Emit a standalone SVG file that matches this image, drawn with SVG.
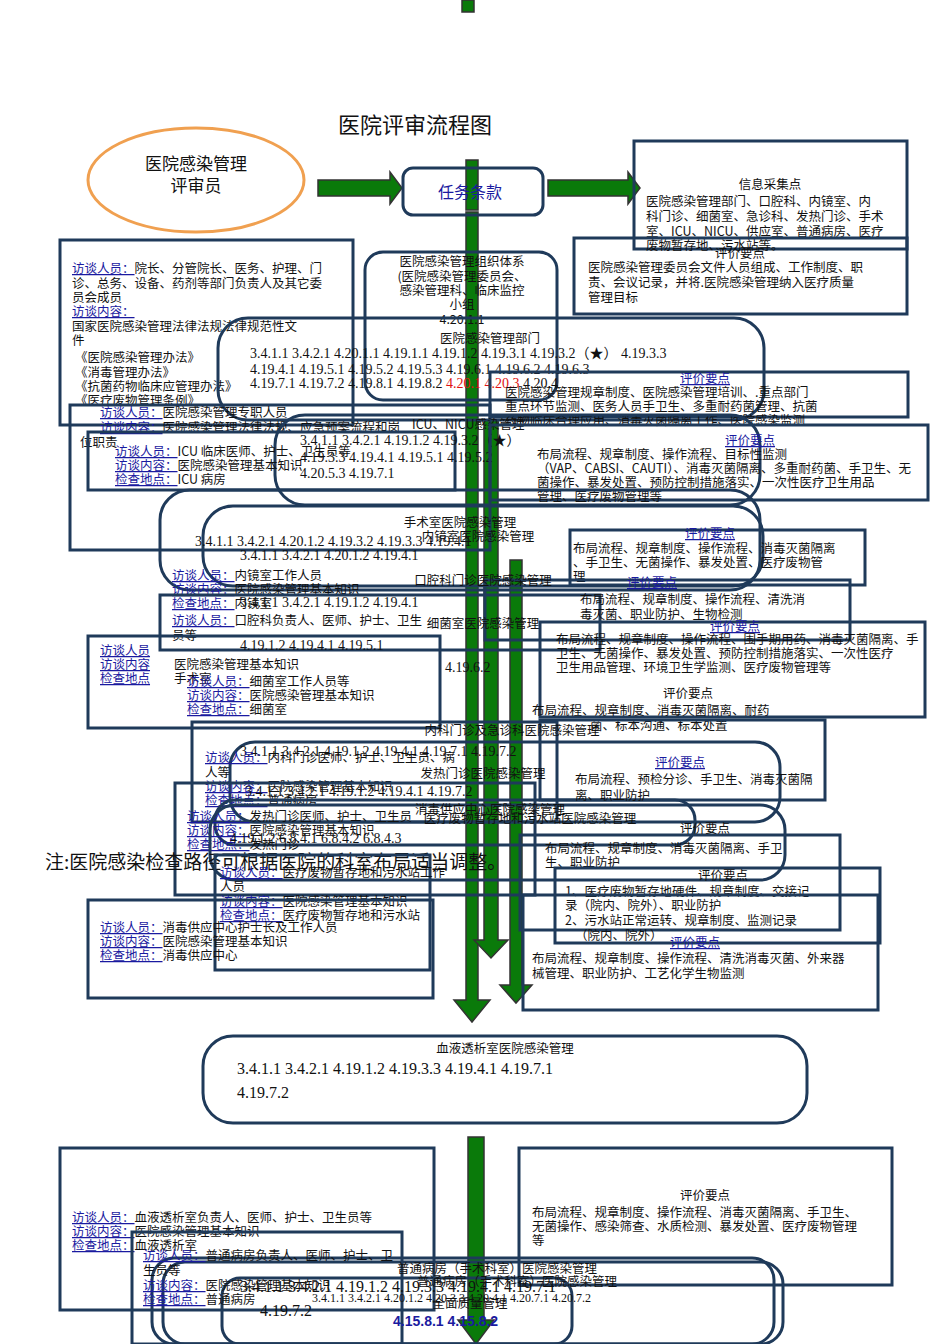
<svg xmlns="http://www.w3.org/2000/svg" width="950" height="1344" viewBox="0 0 950 1344">
<style>
text{font-family:"Noto Sans CJK SC","Liberation Sans",sans-serif;font-size:12.5px;fill:#111}
.b{fill:none;stroke:#1f3a5a;stroke-width:3}
.r{fill:none;stroke:#1f3a5a;stroke-width:3}
.k{fill:#1a1aa0;text-decoration:underline}
.n{font-family:"Liberation Serif","Noto Sans CJK SC",serif;font-size:14px}
.g{fill:#0a7a0a;stroke:#333;stroke-width:1.5}
.red{fill:#e01010}
.bl{fill:#1a1aa0}
</style>
<rect width="950" height="1344" fill="#fff"/>
<g id="connectors">
<rect class="g" x="462" y="0" width="12" height="12"/>
<polygon class="g" points="318,180 390,180 390,172 402,188 390,204 390,196 318,196"/>
<polygon class="g" points="548,180 628,180 628,172 640,188 628,204 628,196 548,196"/>
<rect class="g" x="466" y="160" width="12" height="50"/>
<polygon class="g" points="466,212 478,212 478,1000 490,1000 472,1022 454,1000 466,1000"/>
<polygon class="g" points="484,420 498,420 498,940 508,940 491,958 474,940 484,940"/>
<polygon class="g" points="510,560 522,560 522,985 532,985 516,1003 500,985 510,985"/>
<polygon class="g" points="468,1137 484,1137 484,1320 494,1320 476,1344 458,1320 468,1320"/>
</g>
<text x="415" y="133" text-anchor="middle" style="font-size:22px">医院评审流程图</text>
<g id="reviewer">
<ellipse cx="196" cy="180" rx="108" ry="52" fill="none" stroke="#f0a050" stroke-width="3"/>
<text x="196" y="170" text-anchor="middle" style="font-size:17px">医院感染管理</text>
<text x="196" y="192" text-anchor="middle" style="font-size:17px">评审员</text>
</g>
<g id="task">
<rect class="r" x="403" y="168" width="140" height="47" rx="10"/>
<text x="470" y="198" text-anchor="middle" class="bl" style="font-size:16px">任务条款</text>
</g>
<g id="info">
<rect class="b" x="634" y="141" width="273" height="108"/>
<text x="770" y="189" text-anchor="middle">信息采集点</text>
<text x="646" y="206">医院感染管理部门、口腔科、内镜室、内</text>
<text x="646" y="221">科门诊、细菌室、急诊科、发热门诊、手术</text>
<text x="646" y="236">室、ICU、NICU、供应室、普通病房、医疗</text>
<text x="646" y="250">废物暂存地、污水站等。</text>
</g>
<g id="eval1">
<rect class="b" x="574" y="238" width="333" height="76"/>
<text x="740" y="258" text-anchor="middle">评价要点</text>
<text x="588" y="272">医院感染管理委员会文件人员组成、工作制度、职</text>
<text x="588" y="287">责、会议记录，并将.医院感染管理纳入医疗质量</text>
<text x="588" y="302">管理目标</text>
</g>
<g id="leftmgmt">
<rect class="b" x="60" y="240" width="293" height="185"/>
<text x="72" y="273"><tspan class="k">访谈人员：</tspan>院长、分管院长、医务、护理、门</text>
<text x="72" y="288">诊、总务、设备、药剂等部门负责人及其它委</text>
<text x="72" y="302">员会成员</text>
<text x="72" y="316" class="k">访谈内容：</text>
<text x="72" y="331">国家医院感染管理法律法规法律规范性文</text>
<text x="72" y="345">件</text>
<text x="75" y="362">《医院感染管理办法》</text>
<text x="75" y="377">《消毒管理办法》</text>
<text x="75" y="391">《抗菌药物临床应管理办法》</text>
<text x="75" y="405">《医疗废物管理条例》</text>
</g>
<g id="org">
<rect class="r" x="365" y="252" width="192" height="148" rx="18"/>
<text x="462" y="266" text-anchor="middle">医院感染管理组织体系</text>
<text x="462" y="281" text-anchor="middle">(医院感染管理委员会、</text>
<text x="462" y="295" text-anchor="middle">感染管理科、临床监控</text>
<text x="462" y="309" text-anchor="middle">小组</text>
<text x="462" y="324" text-anchor="middle">4.20.1.1</text>
</g>
<g id="dept">
<rect class="r" x="218" y="318" width="546" height="102" rx="30"/>
<text x="490" y="343" text-anchor="middle">医院感染管理部门</text>
<text x="250" y="358" class="n">3.4.1.1 3.4.2.1 4.20.1.1 4.19.1.1 4.19.1.2 4.19.3.1 4.19.3.2（★） 4.19.3.3</text>
<text x="250" y="374" class="n">4.19.4.1 4.19.5.1 4.19.5.2 4.19.5.3 4.19.6.1 4.19.6.2 4.19.6.3</text>
<text x="250" y="388" class="n">4.19.7.1 4.19.7.2 4.19.8.1 4.19.8.2 <tspan class="red">4.20.1 4.20.3</tspan> 4.20.4</text>
</g>
<g id="eval2">
<rect class="b" x="490" y="372" width="418" height="45"/>
<text x="680" y="383" class="k">评价要点</text>
<text x="505" y="397">医院感染管理规章制度、医院感染管理培训、.重点部门</text>
<text x="505" y="411">重点环节监测、医务人员手卫生、多重耐药菌管理、抗菌</text>
<text x="505" y="425">药物临床合理应用、消毒灭菌隔离工作、医院感染监测</text>
</g>
<g id="deptstaff">
<rect class="b" x="70" y="405" width="420" height="145"/>
<text x="100" y="417"><tspan class="k">访谈人员：</tspan>医院感染管理专职人员</text>
<text x="100" y="432"><tspan class="k">访谈内容：</tspan>医院感染管理法律法规、应急预案流程和岗</text>
<text x="80" y="447">位职责</text>
</g>
<g id="icu">
<rect class="b" x="88" y="432" width="367" height="58"/>
<rect class="r" x="275" y="415" width="485" height="90" rx="30"/>
<text x="412" y="429">ICU、NICU感染管理</text>
<text x="115" y="456"><tspan class="k">访谈人员：</tspan>ICU 临床医师、护士、卫生员等</text>
<text x="115" y="470"><tspan class="k">访谈内容：</tspan>医院感染管理基本知识</text>
<text x="115" y="484"><tspan class="k">检查地点：</tspan>ICU 病房</text>
<text x="300" y="445" class="n">3.4.1.1 3.4.2.1 4.19.1.2 4.19.3.2（★）</text>
<text x="300" y="462" class="n">4.19.3.3 4.19.4.1 4.19.5.1 4.19.5.2</text>
<text x="300" y="478" class="n">4.20.5.3 4.19.7.1</text>
</g>
<g id="eval3">
<rect class="b" x="490" y="425" width="438" height="75"/>
<text x="725" y="445" class="k">评价要点</text>
<text x="537" y="459">布局流程、规章制度、操作流程、目标性监测</text>
<text x="537" y="473">（VAP、CABSI、CAUTI）、消毒灭菌隔离、多重耐药菌、手卫生、无</text>
<text x="537" y="487">菌操作、暴发处置、预防控制措施落实、一次性医疗卫生用品</text>
<text x="537" y="501">管理、医疗废物管理等</text>
</g>
<g id="surgery">
<rect class="r" x="160" y="490" width="600" height="100" rx="30"/>
<rect class="r" x="203" y="506" width="560" height="80" rx="30"/>
<text x="460" y="527" text-anchor="middle">手术室医院感染管理</text>
<text x="195" y="546" class="n">3.4.1.1 3.4.2.1 4.20.1.2 4.19.3.2 4.19.3.3 4.19.4.1</text>
<rect class="b" x="570" y="530" width="295" height="55"/>
<text x="685" y="538" class="k">评价要点</text>
<text x="573" y="553">布局流程、规章制度、操作流程、消毒灭菌隔离</text>
<text x="573" y="567">、手卫生、无菌操作、暴发处置、医疗废物管</text>
<text x="573" y="581">理</text>
</g>
<g id="endoscopy">
<text x="478" y="541" text-anchor="middle">内镜室医院感染管理</text>
<text x="240" y="560" class="n">3.4.1.1 3.4.2.1 4.20.1.2 4.19.4.1</text>
<text x="172" y="580"><tspan class="k">访谈人员：</tspan>内镜室工作人员</text>
<text x="172" y="594"><tspan class="k">访谈内容：</tspan>医院感染管理基本知识</text>
<text x="172" y="608"><tspan class="k">检查地点：</tspan>内镜室</text>
</g>
<g id="oral">
<rect class="b" x="160" y="595" width="440" height="55"/>
<rect class="b" x="485" y="580" width="365" height="60"/>
<text x="483" y="585" text-anchor="middle">口腔科门诊医院感染管理</text>
<text x="240" y="607" class="n">3.4.1.1 3.4.2.1 4.19.1.2 4.19.4.1</text>
<text x="627" y="587" class="k">评价要点</text>
<text x="580" y="604">布局流程、规章制度、操作流程、清洗消</text>
<text x="580" y="619">毒灭菌、职业防护、生物检测</text>
<text x="172" y="625"><tspan class="k">访谈人员：</tspan>口腔科负责人、医师、护士、卫生</text>
<text x="172" y="640">员等</text>
</g>
<g id="lab">
<rect class="b" x="88" y="636" width="352" height="92"/>
<rect class="b" x="540" y="622" width="385" height="95"/>
<text x="483" y="628" text-anchor="middle">细菌室医院感染管理</text>
<text x="100" y="655" class="k">访谈人员</text>
<text x="100" y="669" class="k">访谈内容</text>
<text x="100" y="683" class="k">检查地点</text>
<text x="174" y="669">医院感染管理基本知识</text>
<text x="174" y="683">手术室</text>
<text x="240" y="650" class="n">4.19.1.2 4.19.4.1 4.19.5.1</text>
<text x="445" y="672" class="n">4.19.6.2</text>
<text x="710" y="631" class="k">评价要点</text>
<text x="556" y="644">布局流程、规章制度、操作流程、围手期用药、消毒灭菌隔离、手</text>
<text x="556" y="658">卫生、无菌操作、暴发处置、预防控制措施落实、一次性医疗</text>
<text x="556" y="672">卫生用品管理、环境卫生学监测、医疗废物管理等</text>
<text x="187" y="686"><tspan class="k">访谈人员：</tspan>细菌室工作人员等</text>
<text x="187" y="700"><tspan class="k">访谈内容：</tspan>医院感染管理基本知识</text>
<text x="187" y="714"><tspan class="k">检查地点：</tspan>细菌室</text>
<text x="663" y="698">评价要点</text>
<text x="532" y="715">布局流程、规章制度、消毒灭菌隔离、耐药</text>
<text x="590" y="730">菌、标本沟通、标本处置</text>
</g>
<g id="internal">
<rect class="b" x="192" y="722" width="365" height="100"/>
<rect class="b" x="540" y="720" width="285" height="80"/>
<rect class="r" x="230" y="742" width="550" height="80" rx="25"/>
<text x="512" y="735" text-anchor="middle">内科门诊及急诊科医院感染管理</text>
<text x="240" y="756" class="n">3.4.1.1 3.4.2.1 4.19.1.2 4.19.4.1 4.19.7.1 4.19.7.2</text>
<text x="205" y="762"><tspan class="k">访谈人员：</tspan>内科门诊医师、护士、卫生员、病</text>
<text x="205" y="777">人等</text>
<text x="205" y="791"><tspan class="k">访谈内容：</tspan>医院感染管理基本知识</text>
<text x="205" y="805"><tspan class="k">检查地点：</tspan>普通病房</text>
</g>
<g id="fever">
<rect class="b" x="175" y="783" width="360" height="112"/>
<rect class="r" x="215" y="800" width="480" height="45" rx="20"/>
<text x="483" y="778" text-anchor="middle">发热门诊医院感染管理</text>
<text x="655" y="767" class="k">评价要点</text>
<text x="575" y="784">布局流程、预检分诊、手卫生、消毒灭菌隔</text>
<text x="575" y="800">离、职业防护</text>
<text x="245" y="796" class="n">3.4.1.1 3.4.2.1 4.19.1.2 4.19.4.1 4.19.7.2</text>
<text x="187" y="821"><tspan class="k">访谈人员：</tspan>发热门诊医师、护士、卫生员</text>
<text x="187" y="835"><tspan class="k">访谈内容：</tspan>医院感染管理基本知识</text>
<text x="187" y="849"><tspan class="k">检查地点：</tspan>发热门诊</text>
</g>
<g id="supply">
<rect class="r" x="210" y="805" width="575" height="75" rx="25"/>
<text x="490" y="814" text-anchor="middle">消毒供应中心医院感染管理</text>
<text x="530" y="823" text-anchor="middle">医疗废物暂存地和污水站医院感染管理</text>
<text x="230" y="843" class="n">4.19.1.2 6.8.4.1 6.8.4.2 6.8.4.3</text>
<rect class="b" x="520" y="835" width="320" height="95"/>
<text x="680" y="833">评价要点</text>
<text x="545" y="853">布局流程、规章制度、消毒灭菌隔离、手卫</text>
<text x="545" y="867">生、职业防护</text>
</g>
<text x="45" y="869" style="font-size:19px">注:医院感染检查路径可根据医院的科室布局适当调整。</text>
<g id="waste">
<rect class="b" x="215" y="855" width="215" height="115"/>
<text x="220" y="877"><tspan class="k">访谈人员：</tspan>医疗废物暂存地和污水站工作</text>
<text x="220" y="891">人员</text>
<text x="220" y="906"><tspan class="k">访谈内容：</tspan>医院感染管理基本知识</text>
<text x="220" y="920"><tspan class="k">检查地点：</tspan>医疗废物暂存地和污水站</text>
<rect class="b" x="555" y="868" width="325" height="75"/>
<text x="698" y="880">评价要点</text>
<text x="565" y="896">1、医疗废物暂存地硬件、规章制度、交接记</text>
<text x="565" y="910">录（院内、院外）、职业防护</text>
<text x="565" y="925">2、污水站正常运转、规章制度、监测记录</text>
<text x="575" y="940">（院内、院外）</text>
</g>
<g id="supplystaff">
<rect class="b" x="88" y="900" width="345" height="98"/>
<text x="100" y="932"><tspan class="k">访谈人员：</tspan>消毒供应中心护士长及工作人员</text>
<text x="100" y="946"><tspan class="k">访谈内容：</tspan>医院感染管理基本知识</text>
<text x="100" y="960"><tspan class="k">检查地点：</tspan>消毒供应中心</text>
<rect class="b" x="523" y="895" width="355" height="115"/>
<text x="670" y="947" class="k">评价要点</text>
<text x="532" y="963">布局流程、规章制度、操作流程、清洗消毒灭菌、外来器</text>
<text x="532" y="978">械管理、职业防护、工艺化学生物监测</text>
</g>
<g id="dialysis">
<rect class="r" x="203" y="1036" width="604" height="87" rx="30"/>
<text x="505" y="1053" text-anchor="middle">血液透析室医院感染管理</text>
<text x="237" y="1074" class="n" style="font-size:16px">3.4.1.1  3.4.2.1  4.19.1.2   4.19.3.3   4.19.4.1   4.19.7.1</text>
<text x="237" y="1098" class="n" style="font-size:16px">4.19.7.2</text>
<rect class="b" x="60" y="1148" width="374" height="162"/>
<text x="72" y="1222"><tspan class="k">访谈人员：</tspan>血液透析室负责人、医师、护士、卫生员等</text>
<text x="72" y="1236"><tspan class="k">访谈内容：</tspan>医院感染管理基本知识</text>
<text x="72" y="1250"><tspan class="k">检查地点：</tspan>血液透析室</text>
<rect class="b" x="519" y="1148" width="373" height="137"/>
<text x="705" y="1200" text-anchor="middle">评价要点</text>
<text x="532" y="1217">布局流程、规章制度、操作流程、消毒灭菌隔离、手卫生、</text>
<text x="532" y="1231">无菌操作、感染筛查、水质检测、暴发处置、医疗废物管理</text>
<text x="532" y="1245">等</text>
</g>
<g id="ward">
<rect class="b" x="132" y="1232" width="270" height="112"/>
<rect class="r" x="152" y="1258" width="622" height="86" rx="22"/>
<rect class="r" x="163" y="1262" width="620" height="82" rx="22"/>
<rect class="r" x="222" y="1278" width="350" height="66" rx="18"/>
<text x="143" y="1260"><tspan class="k">访谈人员：</tspan>普通病房负责人、医师、护士、卫</text>
<text x="143" y="1275">生员等</text>
<text x="143" y="1290"><tspan class="k">访谈内容：</tspan>医院感染管理基本知识</text>
<text x="143" y="1304"><tspan class="k">检查地点：</tspan>普通病房</text>
<text x="497" y="1273" text-anchor="middle">普通病房（手术科室）医院感染管理</text>
<text x="517" y="1286" text-anchor="middle">普通病房（手术科室）医院感染管理</text>
<text x="240" y="1292" class="n" style="font-size:16px">3.4.1.1  3.4.2.1  4.19.1.2  4.19.3.3  4.19.4.1  4.19.7.1</text>
<text x="312" y="1302" class="n" style="font-size:12px">3.4.1.1 3.4.2.1 4.20.1.2 4.20.3.3  4.20.4.1  4.20.7.1  4.20.7.2</text>
<text x="260" y="1316" class="n" style="font-size:16px">4.19.7.2</text>
<text x="470" y="1308" text-anchor="middle">全面质量管理</text>
<text x="393" y="1326" class="bl" style="font-family:'Liberation Sans',sans-serif;font-size:14px;font-weight:bold">4.15.8.1  4.15.8.2</text>
</g>
</svg>
